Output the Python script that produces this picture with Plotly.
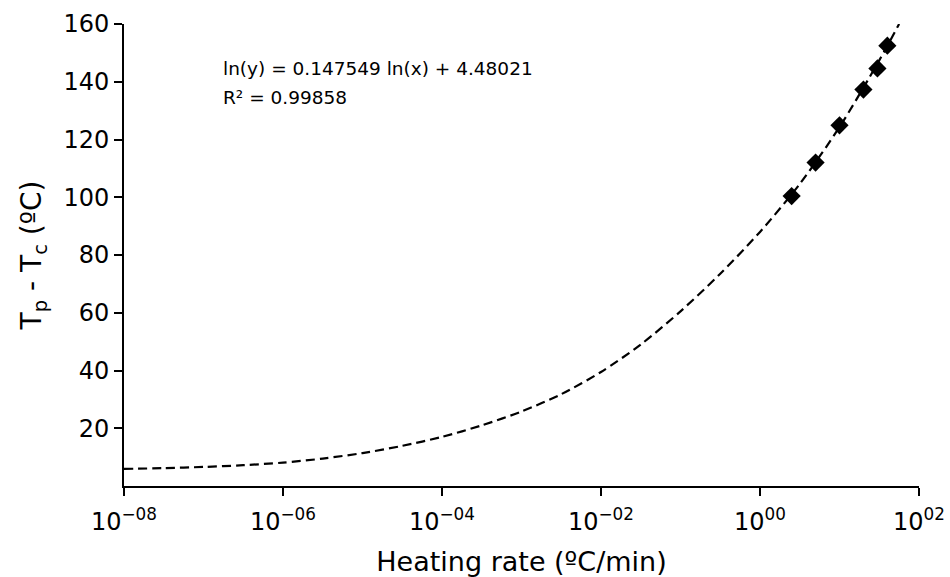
import plotly.graph_objects as go

# Measured data points
heating_rate = [2.5, 5, 10, 20, 30, 40]
tp_minus_tc = [100.4, 112.0, 124.9, 137.3, 144.6, 152.5]

# Dashed fitted curve, every half decade
curve_x = [1e-8, 10**-7.5, 1e-7, 10**-6.5, 1e-6, 10**-5.5, 1e-5, 10**-4.5, 1e-4,
           10**-3.5, 1e-3, 10**-2.5, 1e-2, 10**-1.5, 1e-1, 10**-0.5, 1e0,
           10**0.5, 1e1, 10**1.5, 10**1.75]
curve_y = [5.9, 6.2, 6.6, 7.2, 8.1, 9.5, 11.4, 13.9, 17.0,
           21.0, 25.8, 31.8, 39.5, 49.0, 60.5, 73.5, 88.0,
           104.6, 124.3, 147.4, 160.0]

fit_text = "ln(y) = 0.147549 ln(x) + 4.48021"
r2_text = "R\u00b2 = 0.99858"

x_tick_vals = [1e-8, 1e-6, 1e-4, 1e-2, 1e0, 1e2]
x_tick_text = ["10<sup>\u221208</sup>", "10<sup>\u221206</sup>", "10<sup>\u221204</sup>",
               "10<sup>\u221202</sup>", "10<sup>00</sup>", "10<sup>02</sup>"]
y_tick_vals = [20, 40, 60, 80, 100, 120, 140, 160]

fig = go.Figure()
fig.add_trace(go.Scatter(x=curve_x, y=curve_y, mode="lines",
                         line=dict(color="black", width=2.2, dash="9px,5px", shape="spline", smoothing=0.8),
                         showlegend=False, hoverinfo="skip"))
fig.add_trace(go.Scatter(x=heating_rate, y=tp_minus_tc, mode="markers",
                         marker=dict(symbol="diamond", size=14, color="black"),
                         showlegend=False))

tick_font = dict(family="DejaVu Sans", size=24, color="black")
title_font = dict(family="DejaVu Sans", size=27, color="black")

fig.update_layout(
    width=950, height=577,
    margin=dict(l=124, r=31, t=24, b=91),
    paper_bgcolor="white", plot_bgcolor="white",
    xaxis=dict(type="log", range=[-8, 2], tickvals=x_tick_vals, ticktext=x_tick_text,
               automargin=False,
               showgrid=False, zeroline=False, showline=True, linecolor="black", linewidth=1.6,
               ticks="outside", ticklen=8, tickwidth=1.6, tickcolor="black",
               tickfont=tick_font, ticklabelstandoff=5,
               title=dict(text="Heating rate (\u00baC/min)", font=title_font, standoff=22)),
    yaxis=dict(range=[0, 160], tickvals=y_tick_vals, automargin=False,
               showgrid=False, zeroline=False, showline=True, linecolor="black", linewidth=1.6,
               ticks="outside", ticklen=8, tickwidth=1.6, tickcolor="black",
               tickfont=tick_font,
               title=dict(text="T<sub>p</sub>\u00a0-\u00a0T<sub>c</sub>\u00a0(\u00baC)",
                          font=dict(family="DejaVu Sans", size=28, color="black"), standoff=14)),
    annotations=[
        dict(xref="paper", yref="paper", x=0.122, y=0.93, xanchor="left", yanchor="top",
             text=fit_text, showarrow=False,
             font=dict(family="DejaVu Sans", size=18.5, color="black")),
        dict(xref="paper", yref="paper", x=0.122, y=0.868, xanchor="left", yanchor="top",
             text=r2_text, showarrow=False,
             font=dict(family="DejaVu Sans", size=18.5, color="black")),
    ],
)

fig.write_html("out.html")
